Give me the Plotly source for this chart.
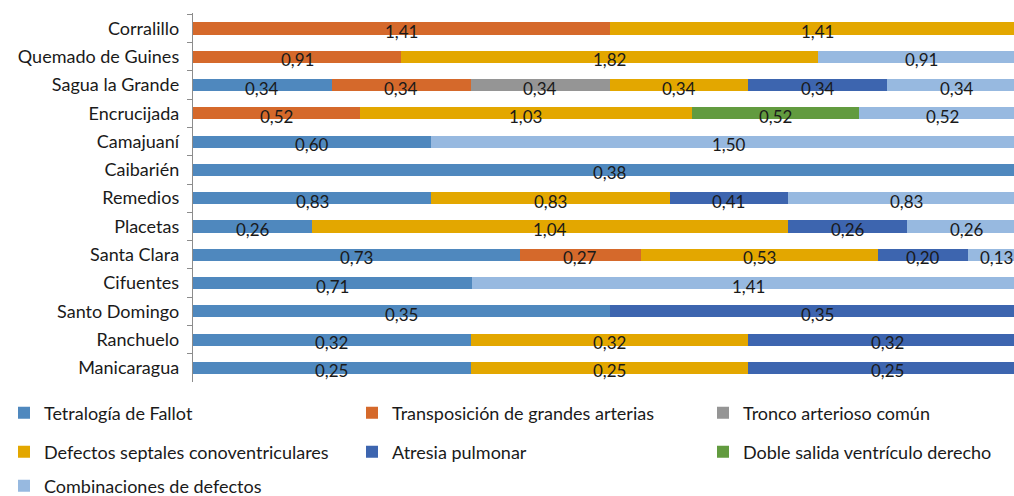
import plotly.graph_objects as go

municipios = [
    "Corralillo", "Quemado de Guines", "Sagua la Grande", "Encrucijada",
    "Camajuaní", "Caibarién", "Remedios", "Placetas", "Santa Clara",
    "Cifuentes", "Santo Domingo", "Ranchuelo", "Manicaragua",
]

tetralogia_fallot =     [0,    0,    0.34, 0,    0.60, 0.38, 0.83, 0.26, 0.73, 0.71, 0.35, 0.32, 0.25]
transposicion =         [1.41, 0.91, 0.34, 0.52, 0,    0,    0,    0,    0.27, 0,    0,    0,    0]
tronco_arterioso =      [0,    0,    0.34, 0,    0,    0,    0,    0,    0,    0,    0,    0,    0]
defectos_septales =     [1.41, 1.82, 0.34, 1.03, 0,    0,    0.83, 1.04, 0.53, 0,    0,    0.32, 0.25]
atresia_pulmonar =      [0,    0,    0.34, 0,    0,    0,    0.41, 0.26, 0.20, 0,    0.35, 0.32, 0.25]
doble_salida =          [0,    0,    0,    0.52, 0,    0,    0,    0,    0,    0,    0,    0,    0]
combinaciones =         [0,    0.91, 0.34, 0.52, 1.50, 0,    0.83, 0.26, 0.13, 1.41, 0,    0,    0]

series = [
    ("Tetralogía de Fallot", tetralogia_fallot, "#4F88BE"),
    ("Transposición de grandes arterias", transposicion, "#D5692B"),
    ("Tronco arterioso común", tronco_arterioso, "#959595"),
    ("Defectos septales conoventriculares", defectos_septales, "#E3A700"),
    ("Atresia pulmonar", atresia_pulmonar, "#3D65AF"),
    ("Doble salida ventrículo derecho", doble_salida, "#629B3F"),
    ("Combinaciones de defectos", combinaciones, "#97B9E0"),
]

W, H = 1014, 496
ML, MR, MT, MB = 193, 0, 13, 114
PW = W - ML - MR
PH = H - MT - MB

# legend slots: (pixel x of item, pixel y of row centre)
legend_slots = [(4, 413), (352, 413), (703, 413),
                (4, 452), (352, 452), (703, 452),
                (4, 486)]

fig = go.Figure()
for i, (name, vals, color) in enumerate(series):
    lg = "legend" if i == 0 else f"legend{i + 1}"
    fig.add_trace(go.Bar(
        y=municipios, x=vals, name=name, orientation="h",
        marker=dict(color=color, line=dict(width=0)),
        legend=lg, hoverinfo="skip",
    ))

# value labels centred on each segment of the 100 % bars
totals = [sum(s[1][k] for s in series) for k in range(len(municipios))]
for k, m in enumerate(municipios):
    cum = 0.0
    for name, vals, color in series:
        v = vals[k]
        if v > 0:
            centre = (cum + v / 2) / totals[k] * 100
            fig.add_annotation(
                x=centre, y=m, xref="x", yref="y",
                text=f"{v:.2f}".replace(".", ","), showarrow=False,
                font=dict(family="Lato", size=17, color="#1a1a1a"),
                yshift=-3,
            )
        cum += v

layout_legends = {}
for i, (px, py) in enumerate(legend_slots):
    key = "legend" if i == 0 else f"legend{i + 1}"
    layout_legends[key] = dict(
        x=(px - ML) / PW, y=(MT + PH - py) / PH,
        xanchor="left", yanchor="middle",
        orientation="h", bgcolor="rgba(0,0,0,0)",
        font=dict(family="Lato", size=18, color="#1a1a1a"),
    )

fig.update_layout(
    width=W, height=H,
    margin=dict(l=ML, r=MR, t=MT, b=MB, autoexpand=False),
    barmode="stack", barnorm="percent", bargap=0.57,
    plot_bgcolor="white", paper_bgcolor="white",
    showlegend=True,
    xaxis=dict(range=[0, 100 * PW / 833], showgrid=False, showticklabels=False,
               zeroline=False, showline=False, fixedrange=True),
    yaxis=dict(autorange="reversed", showline=True, linecolor="#8c8c8c", linewidth=1,
               ticks="outside", tickson="boundaries", ticklen=5, tickcolor="#8c8c8c",
               showgrid=False, ticksuffix="  ",
               tickfont=dict(family="Lato", size=18, color="#1a1a1a")),
    **layout_legends,
)

fig.write_html("out.html")
